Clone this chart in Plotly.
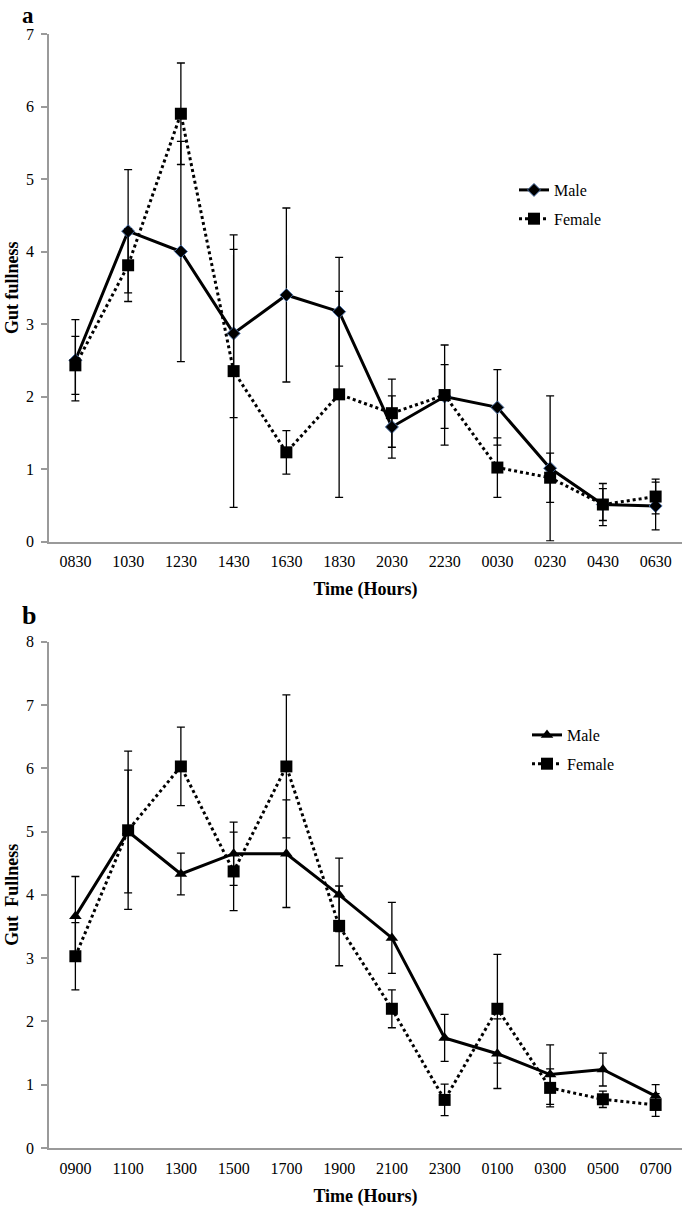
import plotly.graph_objects as go
from plotly.subplots import make_subplots

# Panel a
times_a = ["0830", "1030", "1230", "1430", "1630", "1830", "2030", "2230", "0030", "0230", "0430", "0630"]
male_a = [2.50, 4.28, 4.00, 2.87, 3.40, 3.17, 1.58, 2.00, 1.85, 1.01, 0.51, 0.49]
male_a_err = [0.56, 0.85, 1.52, 1.16, 1.20, 0.75, 0.43, 0.44, 0.52, 1.00, 0.29, 0.33]
female_a = [2.43, 3.81, 5.90, 2.35, 1.23, 2.03, 1.77, 2.02, 1.02, 0.88, 0.51, 0.62]
female_a_err = [0.40, 0.50, 0.70, 1.88, 0.30, 1.42, 0.47, 0.69, 0.41, 0.34, 0.22, 0.24]

# Panel b
times_b = ["0900", "1100", "1300", "1500", "1700", "1900", "2100", "2300", "0100", "0300", "0500", "0700"]
male_b = [3.66, 5.00, 4.33, 4.65, 4.65, 4.00, 3.32, 1.74, 1.49, 1.16, 1.24, 0.82]
male_b_err = [0.63, 0.97, 0.33, 0.50, 0.85, 0.58, 0.56, 0.37, 0.55, 0.47, 0.26, 0.18]
female_b = [3.03, 5.02, 6.03, 4.37, 6.03, 3.51, 2.20, 0.76, 2.20, 0.95, 0.77, 0.68]
female_b_err = [0.53, 1.25, 0.62, 0.62, 1.13, 0.63, 0.30, 0.25, 0.86, 0.30, 0.13, 0.18]

FONT = "Liberation Serif, Times New Roman, serif"
W, H = 685, 1209
L, R = 49, 3
T, B = 34, 61
PW = W - L - R
PH = H - T - B


def py(px):
    return 1 - (px - T) / PH


def dom(top_px, bot_px):
    return [max(0.0, min(1.0, py(bot_px))), max(0.0, min(1.0, py(top_px)))]


fig = make_subplots(rows=2, cols=1)

err_style = dict(type="data", visible=True, color="black", thickness=1.3, width=4)

fig.add_trace(go.Scatter(
    x=times_a, y=male_a, name="Male", mode="lines+markers",
    line=dict(color="black", width=3),
    marker=dict(symbol="diamond", size=10, color="black", line=dict(color="#4a6fa5", width=1)),
    error_y=dict(array=male_a_err, **err_style),
    legend="legend", legendgroup="ma"), row=1, col=1)
fig.add_trace(go.Scatter(
    x=times_a, y=female_a, name="Female", mode="lines+markers",
    line=dict(color="black", width=3, dash="dot"),
    marker=dict(symbol="square", size=12, color="black"),
    error_y=dict(array=female_a_err, **err_style),
    legend="legend", legendgroup="fa"), row=1, col=1)

fig.add_trace(go.Scatter(
    x=times_b, y=male_b, name="Male", mode="lines+markers",
    line=dict(color="black", width=3),
    marker=dict(symbol="triangle-up", size=11, color="black"),
    error_y=dict(array=male_b_err, **err_style),
    legend="legend2", legendgroup="mb"), row=2, col=1)
fig.add_trace(go.Scatter(
    x=times_b, y=female_b, name="Female", mode="lines+markers",
    line=dict(color="black", width=3, dash="dot"),
    marker=dict(symbol="square", size=12, color="black"),
    error_y=dict(array=female_b_err, **err_style),
    legend="legend2", legendgroup="fb"), row=2, col=1)

axis_common = dict(showline=True, linecolor="#9a9a9a", linewidth=1.5, showgrid=False,
                   zeroline=False, automargin=False,
                   tickfont=dict(family=FONT, size=16, color="black"))
title_font = dict(family=FONT, size=18, color="black")

fig.update_xaxes(type="category", range=[-0.5, 11.5], ticks="", domain=[0, 1],
                 ticklabelstandoff=5, **axis_common,
                 title=dict(text="<b>Time (Hours)</b>", font=title_font, standoff=13))
fig.update_yaxes(ticks="outside", ticklen=6, tickcolor="#9a9a9a", tickwidth=1.5, dtick=1,
                 ticklabelstandoff=4, **axis_common)

fig.update_yaxes(range=[0, 7], domain=dom(34, 541.5), row=1, col=1,
                 title=dict(text="<b>Gut fullness</b>", font=title_font, standoff=3))
fig.update_yaxes(range=[0, 8], domain=dom(641.7, 1148.3), row=2, col=1,
                 title=dict(text="<b>Gut  Fullness</b>", font=title_font, standoff=3))

legend_common = dict(font=dict(family=FONT, size=16, color="black"), bgcolor="rgba(0,0,0,0)",
                     tracegroupgap=5, traceorder="grouped", xanchor="left", yanchor="top",
                     itemwidth=30)

fig.update_layout(
    width=W, height=H,
    margin=dict(l=L, r=R, t=T, b=B),
    paper_bgcolor="white", plot_bgcolor="white",
    showlegend=True,
    legend=dict(x=(514 - L) / PW, y=py(173), **legend_common),
    legend2=dict(x=(527 - L) / PW, y=py(718), **legend_common),
    annotations=[
        dict(text="<b>a</b>", x=(20 - L) / PW, y=py(1), xref="paper", yref="paper", showarrow=False,
             font=dict(family=FONT, size=23, color="black"), xanchor="left", yanchor="top"),
        dict(text="<b>b</b>", x=(20 - L) / PW, y=py(615), xref="paper", yref="paper", showarrow=False,
             font=dict(family=FONT, size=26, color="black"), xanchor="left", yanchor="middle"),
    ],
)

fig.write_html("out.html", config={"displayModeBar": False},
               post_script="document.body.style.margin='0';")
